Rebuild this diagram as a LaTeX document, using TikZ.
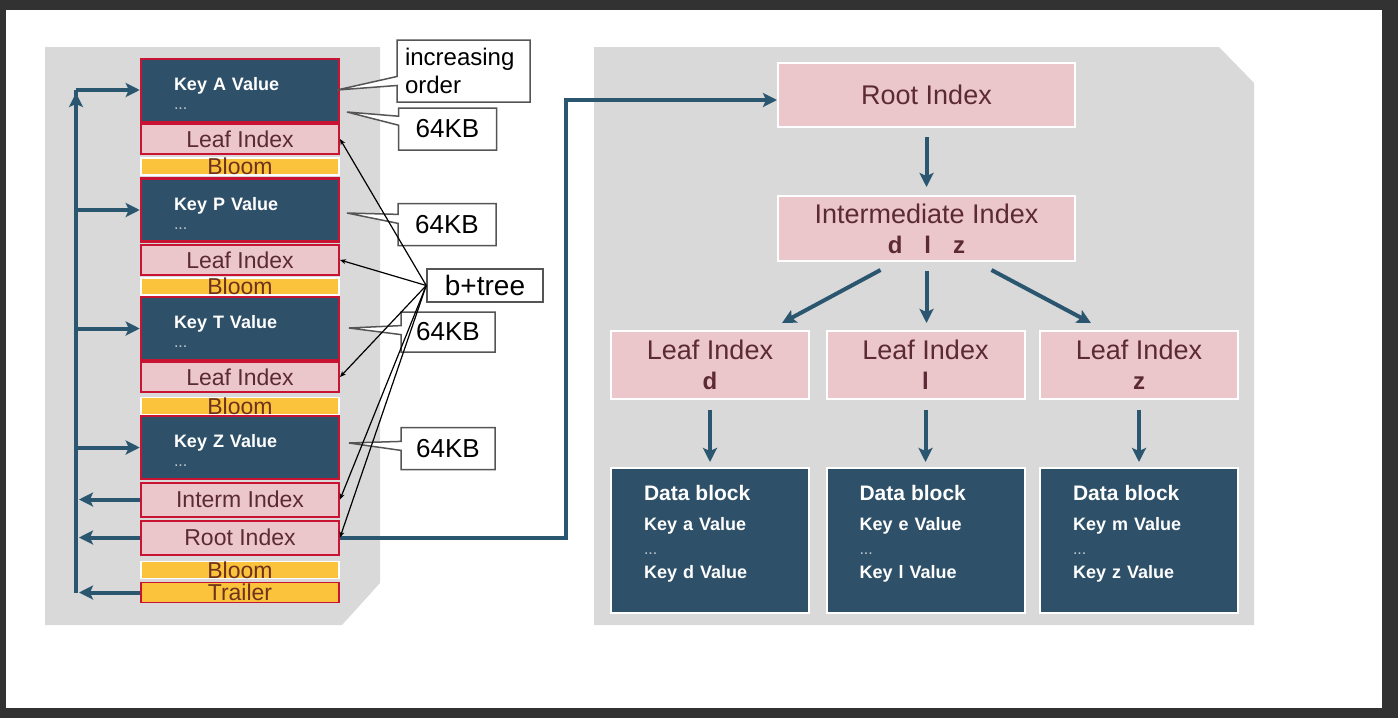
\documentclass[tikz,border=0pt]{standalone}
\usepackage{fontspec}
\setmainfont{Liberation Sans}
\usepackage{xcolor}
\usepackage{tikz}
\usetikzlibrary{shapes,arrows,arrows.meta,positioning,calc}
\definecolor{frameGray}{RGB}{50,50,50}
\definecolor{panelGray}{RGB}{217,217,217}
\definecolor{blockBlue}{RGB}{46,80,104}
\definecolor{arrowBlue}{RGB}{42,86,112}
\definecolor{edgeRed}{RGB}{200,20,50}
\definecolor{indexPink}{RGB}{235,198,203}
\definecolor{bloomYellow}{RGB}{251,195,60}
\definecolor{pinkText}{RGB}{92,42,52}
\definecolor{bloomText}{RGB}{110,50,30}
\definecolor{noteGray}{RGB}{85,85,85}
\newcommand{\fsz}[2]{\fontsize{#1}{#2}\selectfont}
\newcommand{\smalldots}{{\mdseries\fsz{16}{16}\color{white!70!blockBlue}...}}

\begin{document}
\begin{tikzpicture}[
    x=1pt, y=-1pt,
    keyblk/.style={rectangle, draw=edgeRed, fill=blockBlue, line width=2.5pt,
                minimum width=198pt, minimum height=63pt, text width=132pt, inner xsep=33pt,
                align=left, text=white, font=\bfseries\fsz{18}{19}, text depth=13pt},
    idxL/.style={rectangle, draw=edgeRed, fill=indexPink, line width=2pt,
                minimum width=198pt, inner sep=0pt, text=pinkText, font=\fsz{23}{23}},
    bloomL/.style={rectangle, draw=white, fill=bloomYellow, line width=1.5pt,
                minimum width=198pt, minimum height=17pt, inner sep=0pt, text=bloomText, font=\fsz{23}{23}},
    idxR/.style={rectangle, draw=white, fill=indexPink, line width=2pt,
                inner sep=0pt, align=center, text=pinkText, font=\fsz{27}{30}},
    datablk/.style={rectangle, draw=white, fill=blockBlue, line width=2pt,
                minimum width=198pt, minimum height=145pt, text width=132pt, inner xsep=33pt,
                align=left, text=white, font=\bfseries\fsz{18}{24}, text depth=96pt},
    note/.style={rectangle callout, draw=noteGray, fill=white, line width=1.5pt,
                inner sep=0pt, callout pointer width=9pt, font=\fsz{26}{26}},
    tag/.style={rectangle, draw=noteGray, fill=white, line width=1.5pt,
                inner sep=0pt, font=\fsz{28}{28}},
    arrow/.style={-{Stealth[length=14pt,width=14pt,inset=3pt]}, line width=4pt, draw=arrowBlue},
    ptr/.style={-{Stealth[length=6pt,width=5pt]}, line width=1.2pt, draw=black}
]
    % Frame and panels
    \fill[frameGray] (0,0) rectangle (1398,718);
    \fill[white] (6,10) rectangle (1382,708);
    \fill[panelGray] (45,47) -- (380,47) -- (380,583) -- (342,625) -- (45,625) -- cycle;
    \fill[panelGray] (594,47) -- (1219,47) -- (1254,83) -- (1254,625) -- (594,625) -- cycle;

    % Left stack - blocks and indexes
    \node[keyblk] (keyA) at (240,90.5) {Key A Value\\\smalldots};
    \node[idxL, minimum height=30pt] (leafA) at (240,139) {Leaf Index};
    \node[bloomL] (bloomA) at (240,166.5) {Bloom};
    \node[keyblk] (keyP) at (240,210) {Key P Value\\\smalldots};
    \node[idxL, minimum height=30pt] (leafP) at (240,260) {Leaf Index};
    \node[bloomL] (bloomP) at (240,286.5) {Bloom};
    \node[keyblk] (keyT) at (240,328.5) {Key T Value\\\smalldots};
    \node[idxL, minimum height=30pt] (leafT) at (240,377) {Leaf Index};
    \node[bloomL] (bloomT) at (240,406) {Bloom};
    \node[keyblk] (keyZ) at (240,447.5) {Key Z Value\\\smalldots};
    \node[idxL, minimum height=34pt] (intermL) at (240,499.5) {Interm Index};
    \node[idxL, minimum height=34pt] (rootL) at (240,537.5) {Root Index};
    \node[bloomL] (bloomZ) at (240,570) {Bloom};
    \node[bloomL, draw=edgeRed, minimum height=20pt] (trailer) at (240,592.5) {Trailer};

    % Left bus
    \coordinate (busTop) at (76,90);
    \coordinate (busBot) at (76,592.5);
    \draw[line width=4pt, arrowBlue] (busBot) -- (busTop);
    \draw[arrow] (busBot) -- ([yshift=-3pt]busTop);
    \draw[arrow] (busTop) -- (busTop -| keyA.west);
    \draw[arrow] (busTop |- keyP.west) -- (keyP.west);
    \draw[arrow] (busTop |- keyT.west) -- (keyT.west);
    \draw[arrow] (busTop |- keyZ.west) -- (keyZ.west);
    \draw[arrow, shorten >=3pt] (intermL.west) -- (intermL.west -| busTop);
    \draw[arrow, shorten >=3pt] (rootL.west) -- (rootL.west -| busTop);
    \draw[arrow, shorten >=3pt] (trailer.west) -- (trailer.west -| busTop);

    % Right panel - index tree
    \node[idxR, minimum width=297pt, minimum height=64pt] (rootR) at (926.5,95) {Root Index};
    \node[idxR, minimum width=297pt, minimum height=65pt] (intR) at (926.5,228.5)
        {Intermediate Index\\{\bfseries\fsz{24}{30}d\hspace{22pt}l\hspace{22pt}z}};
    \node[idxR, minimum width=198pt, minimum height=68pt] (leafD) at (710,365) {Leaf Index\\{\bfseries\fsz{24}{30}d}};
    \node[idxR, minimum width=198pt, minimum height=68pt] (leafL) at (925.5,365) {Leaf Index\\{\bfseries\fsz{24}{30}l}};
    \node[idxR, minimum width=198pt, minimum height=68pt] (leafZ) at (1139,365) {Leaf Index\\{\bfseries\fsz{24}{30}z}};

    % Data blocks
    \node[datablk] (dataD) at (710,540.5) {{\fsz{21}{24}Data block}\\[6pt]Key a Value\\\smalldots\\Key d Value};
    \node[datablk] (dataL) at (925.5,540.5) {{\fsz{21}{24}Data block}\\[6pt]Key e Value\\\smalldots\\Key l Value};
    \node[datablk] (dataZ) at (1139,540.5) {{\fsz{21}{24}Data block}\\[6pt]Key m Value\\\smalldots\\Key z Value};

    % Tree connections
    \coordinate (bend) at (566,100);
    \draw[arrow] (rootL.east) -| (bend) -- (bend -| rootR.west);
    \draw[arrow, shorten <=9pt, shorten >=8pt] (rootR) -- (intR);
    \draw[arrow] ([xshift=-46pt, yshift=-8pt]intR.south) -- ([xshift=72pt, yshift=7pt]leafD.north);
    \draw[arrow, shorten <=9pt, shorten >=7pt] (intR.south) -- (intR.south |- leafL.north);
    \draw[arrow] ([xshift=65pt, yshift=-8pt]intR.south) -- ([xshift=-48pt, yshift=7pt]leafZ.north);
    \draw[arrow, shorten <=10pt, shorten >=5pt] (leafD) -- (dataD);
    \draw[arrow, shorten <=10pt, shorten >=5pt] (leafL) -- (dataL);
    \draw[arrow, shorten <=10pt, shorten >=5pt] (leafZ) -- (dataZ);

    % Callouts
    \coordinate (tipOrder) at (337,90);
    \coordinate (tipA) at (347,112);
    \coordinate (tipP) at (347,213);
    \coordinate (tipT) at (349,328);
    \coordinate (tipZ) at (349,443);
    \node[note, minimum width=133pt, minimum height=62pt, align=left, text width=117pt,
          font=\fsz{24}{28}, callout absolute pointer={(tipOrder)}] (order) at (463.5,71) {increasing\\order};
    \node[note, minimum width=98pt, minimum height=42pt, callout absolute pointer={(tipA)}] (kbA) at (447.5,129) {64KB};
    \node[note, minimum width=98pt, minimum height=42pt, callout absolute pointer={(tipP)}] (kbP) at (447,224.5) {64KB};
    \node[note, minimum width=94pt, minimum height=40pt, callout absolute pointer={(tipT)}] (kbT) at (448,332) {64KB};
    \node[note, minimum width=94pt, minimum height=42pt, callout absolute pointer={(tipZ)}] (kbZ) at (448,448.5) {64KB};
    \node[tag, minimum width=116pt, minimum height=33pt] (btree) at (485,285.5) {b+tree};

    % b+tree pointers
    \draw[ptr] (btree.west) -- (leafA.east);
    \draw[ptr] (btree.west) -- (leafP.east);
    \draw[ptr] (btree.west) -- (leafT.east);
    \draw[ptr] (btree.west) -- (intermL.east);
    \draw[ptr] (btree.west) -- (rootL.east);

\end{tikzpicture}
\end{document}
